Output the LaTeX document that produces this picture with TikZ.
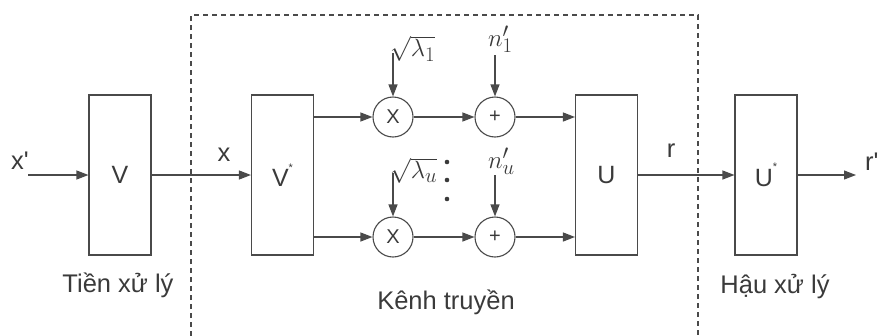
\documentclass[tikz,border=0pt]{standalone}
\usepackage{fontspec}
\setmainfont{Liberation Sans}
\usetikzlibrary{arrows.meta,calc}
\definecolor{ln}{HTML}{4A4A4A}
\definecolor{tx}{HTML}{3A3A3A}
\tikzset{
  lbl/.style={text=tx,font=\fontsize{25.5}{28}\selectfont,inner sep=0pt},
  blk/.style={draw=ln,line width=1.1pt,minimum width=62pt,minimum height=160pt,inner sep=0pt,text=tx,font=\fontsize{25}{28}\selectfont},
  opc/.style={draw=ln,line width=1.1pt,circle,minimum size=40pt,inner sep=0pt,text=tx,font=\fontsize{20}{22}\selectfont},
  con/.style={draw=ln,line width=1.1pt,-{Triangle[length=12pt,width=9pt]}},
  mth/.style={text=tx,inner sep=0pt,font=\fontsize{30}{33}\selectfont},
}
\newcommand{\astr}{\raisebox{0.62em}{\fontsize{11}{11}\selectfont *}}
\begin{document}
\begin{tikzpicture}[x=1pt,y=-1pt]
\useasboundingbox (0,0) rectangle (880,335);
% dashed channel box
\draw[ln,line width=1.1pt,dash pattern=on 5pt off 4pt] (191,345) -- (191,15) -- (698,15) -- (698,345);
% blocks
\node[blk] (V) at (120,175) {V};
\node[blk] (Vs) at (282.5,175) {V\astr};
\node[blk] (U) at (606.5,175) {U};
\node[blk] (Us) at (766,175) {U\astr};
% operators
\node[opc] (m1) at (393,117) {X};
\node[opc] (p1) at (495,117) {+};
\node[opc] (m2) at (393,237) {X};
\node[opc] (p2) at (495,237) {+};
% free ends
\coordinate (xin) at (28,175);
\coordinate (rout) at (856,175);
\coordinate (l1) at (393,53);
\coordinate (n1) at (495,55);
\coordinate (l2) at (393,173);
\coordinate (n2) at (495,175);
% connectors
\draw[con] (xin) -- (V.west);
\draw[con] (V.east) -- (Vs.west);
\draw[con] (Vs.east |- m1) -- (m1);
\draw[con] (Vs.east |- m2) -- (m2);
\draw[con] (m1) -- (p1);
\draw[con] (m2) -- (p2);
\draw[con] (p1) -- (U.west |- p1);
\draw[con] (p2) -- (U.west |- p2);
\draw[con] (l1) -- (m1);
\draw[con] (n1) -- (p1);
\draw[con] (l2) -- (m2);
\draw[con] (n2) -- (p2);
\draw[con] (U.east) -- (Us.west);
\draw[con] (Us.east) -- (rout);
% labels
\node[lbl] (lx1) at (20,161) {x\textquotesingle};
\node[lbl] (lx) at (224,155) {x};
\node[lbl] (lr) at (671,151) {r};
\node[lbl,anchor=west] (lr1) at (865,162) {r\textquotesingle};
\node[lbl] (t1) at (118,285) {Tiền xử lý};
\node[lbl] (t2) at (446,302) {Kênh truyền};
\node[lbl] (t3) at (775,287) {Hậu xử lý};
\node[mth,anchor=south west] (sl1) at (390,62) {$\sqrt{\lambda_{1}}$};
\node[mth,anchor=south west] (sn1) at (488,53) {$n'_{1}$};
\node[mth,anchor=south west] (sl2) at (390,184) {$\sqrt{\lambda_{u}}$};
\node[mth,anchor=south west] (sn2) at (488,175) {$n'_{u}$};
\foreach \yy in {162,180,199} \fill[tx] (447,\yy) circle (2.3pt);
\end{tikzpicture}
\end{document}
